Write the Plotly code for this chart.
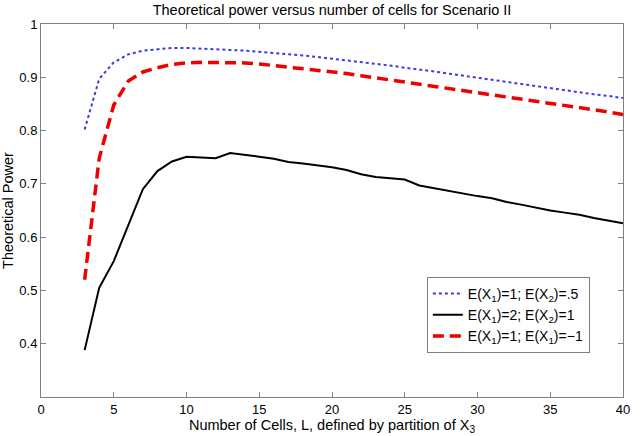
import plotly.graph_objects as go

# Numero de celdas L
cells = list(range(3, 41))

# E(X1)=1; E(X2)=.5  (punteada azul)
power_blue = [0.802, 0.897, 0.928, 0.943, 0.950, 0.953, 0.955, 0.955, 0.954, 0.953,
              0.952, 0.950, 0.948, 0.946, 0.944, 0.941, 0.938, 0.935, 0.932, 0.929,
              0.926, 0.922, 0.918, 0.915, 0.911, 0.907, 0.903, 0.899, 0.895, 0.891,
              0.887, 0.883, 0.880, 0.876, 0.872, 0.868, 0.865, 0.861]

# E(X1)=2; E(X2)=1  (solida negra)
power_black = [0.388, 0.505, 0.555, 0.623, 0.690, 0.724, 0.742, 0.751, 0.749, 0.748,
               0.758, 0.755, 0.751, 0.747, 0.741, 0.738, 0.735, 0.731, 0.726, 0.718,
               0.713, 0.710, 0.708, 0.697, 0.692, 0.687, 0.681, 0.677, 0.673, 0.666,
               0.661, 0.655, 0.650, 0.646, 0.642, 0.636, 0.631, 0.626]

# E(X1)=1; E(X1)=-1  (discontinua roja)
power_red = [0.520, 0.748, 0.848, 0.893, 0.910, 0.918, 0.924, 0.927, 0.928, 0.928,
             0.928, 0.927, 0.925, 0.922, 0.920, 0.917, 0.913, 0.910, 0.907, 0.903,
             0.899, 0.895, 0.891, 0.887, 0.883, 0.879, 0.875, 0.871, 0.867, 0.863,
             0.859, 0.855, 0.852, 0.848, 0.844, 0.840, 0.835, 0.830]

x_ticks = [0, 5, 10, 15, 20, 25, 30, 35, 40]
y_ticks = [0.4, 0.5, 0.6, 0.7, 0.8, 0.9, 1]

FONT = 'Liberation Sans, Arial, sans-serif'

fig = go.Figure()
fig.add_trace(go.Scatter(
    x=cells, y=power_blue, mode='lines',
    name='E(X<sub>1</sub>)=1; E(X<sub>2</sub>)=.5',
    line=dict(color='#3a3ae6', width=2, dash='dot')
))
fig.add_trace(go.Scatter(
    x=cells, y=power_black, mode='lines',
    name='E(X<sub>1</sub>)=2; E(X<sub>2</sub>)=1',
    line=dict(color='black', width=2)
))
fig.add_trace(go.Scatter(
    x=cells, y=power_red, mode='lines',
    name='E(X<sub>1</sub>)=1; E(X<sub>1</sub>)=\u22121',
    line=dict(color='#ee0000', width=3.5, dash='11px,6px')
))

axis_style = dict(
    showline=True, linecolor='#808080', linewidth=1, mirror='ticks',
    ticks='inside', ticklen=5, tickcolor='#808080',
    showgrid=False, zeroline=False, automargin=False,
    tickfont=dict(family=FONT, size=13, color='black')
)

fig.update_xaxes(
    range=[0, 40], tickvals=x_ticks,
    title=dict(text='Number of Cells, L, defined by partition of X<sub>3</sub>',
               font=dict(family=FONT, size=14.5, color='black'), standoff=2),
    **axis_style
)
fig.update_yaxes(
    range=[0.3, 1], tickvals=y_ticks,
    title=dict(text='Theoretical Power',
               font=dict(family=FONT, size=14.5, color='black'), standoff=2),
    **axis_style
)

fig.update_layout(
    width=643, height=436,
    margin=dict(l=41, r=20, t=24, b=39),
    paper_bgcolor='white', plot_bgcolor='white',
    title=dict(text='Theoretical power versus number of cells for Scenario II',
               x=0.5, xref='paper', y=0.99, yref='container', yanchor='top',
               font=dict(family=FONT, size=14.5, color='black')),
    legend=dict(x=0.663, y=0.322, xanchor='left', yanchor='top',
                bordercolor='#808080', borderwidth=1, bgcolor='white',
                font=dict(family=FONT, size=14, color='black'),
                tracegroupgap=0, itemwidth=30),
    showlegend=True
)

# quitar el margen por defecto del body para que la figura quede en (0,0)
fig.write_html('out.html', config={'displayModeBar': False},
               post_script="document.body.style.margin='0';")
